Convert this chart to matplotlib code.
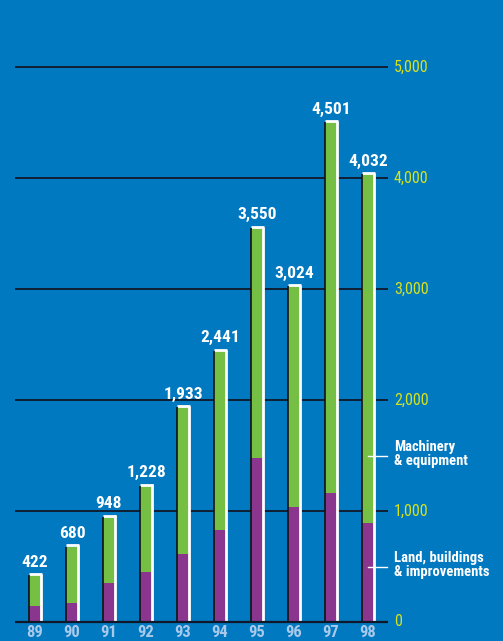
import matplotlib
matplotlib.use("Agg")
import matplotlib.pyplot as plt

years = ["89", "90", "91", "92", "93", "94", "95", "96", "97", "98"]
totals = [422, 680, 948, 1228, 1933, 2441, 3550, 3024, 4501, 4032]
land = [147, 167, 354, 453, 610, 826, 1473, 1040, 1165, 893]
machinery = [t - l for t, l in zip(totals, land)]
grid_values = [1000, 2000, 3000, 4000, 5000]
grid_labels = ["1,000", "2,000", "3,000", "4,000", "5,000"]
legend_labels = ["Machinery\n& equipment", "Land, buildings\n& improvements"]

BG = "#0079c1"
GREEN = "#74bf44"
PURPLE = "#8b368e"
YELLOW = "#d6e21e"
YEARCOL = "#a9c9ea"

FAM = ["Roboto Condensed", "DejaVu Sans"]

fig = plt.figure(figsize=(5.03, 6.41), dpi=100, facecolor=BG)
ax = fig.add_axes([0, 0, 1, 1])
ax.set_facecolor(BG)
ax.set_xlim(-35 / 37, (503 - 35) / 37)
ax.set_ylim(-19 / 0.111, 622 / 0.111)
ax.axis("off")

x = list(range(len(years)))
gx0, gx1 = -20 / 37, (388 - 35) / 37

# horizontal gridlines and baseline
ax.hlines(grid_values, gx0, gx1, color="#101828", lw=1.3, zorder=1)
ax.hlines([0], gx0, gx1, color="#101828", lw=1.6, zorder=4)

w = 0.30
ax.bar(x, land, width=w, color=PURPLE, zorder=2, linewidth=0)
ax.bar(x, machinery, bottom=land, width=w, color=GREEN, zorder=2, linewidth=0)

for i, t in enumerate(totals):
    # white right and top edges, dark left edge
    ax.plot([i + w / 2 + 0.025, i + w / 2 + 0.025], [0, t + 12], color="white",
            lw=2.0, solid_capstyle="butt", zorder=3)
    ax.plot([i - w / 2 - 0.01, i + w / 2 + 0.05], [t + 10, t + 10], color="white",
            lw=2.0, solid_capstyle="butt", zorder=3)
    ax.plot([i - w / 2 - 0.015, i - w / 2 - 0.015], [0, t], color="#111111",
            lw=1.2, solid_capstyle="butt", zorder=3)
    ax.annotate(f"{t:,}", (i, t), xytext=(0, 4), textcoords="offset points",
                ha="center", va="bottom", color="white", fontsize=12.5,
                fontweight="bold", family=FAM)
    ax.annotate(years[i], (i, 0), xytext=(0, -2), textcoords="offset points",
                ha="center", va="top", color=YEARCOL, fontsize=12,
                fontweight="bold", family=FAM)

lx = (394 - 35) / 37
for v, lab in zip([0] + grid_values, ["0"] + grid_labels):
    ax.text(lx, v, lab, ha="left", va="center", color=YELLOW, fontsize=11.5,
            family=FAM)

# series labels with leader lines
leg_y = [1495, 495]
for yv, lab in zip(leg_y, legend_labels):
    ax.plot([9, (387 - 35) / 37], [yv, yv], color="white", lw=1.0, zorder=5)
    ax.text(lx, yv + 20, lab, ha="left", va="center", color="white", fontsize=10.5,
            fontweight="bold", family=FAM, linespacing=1.0)

fig.savefig("out.png", dpi=100, facecolor=BG)
